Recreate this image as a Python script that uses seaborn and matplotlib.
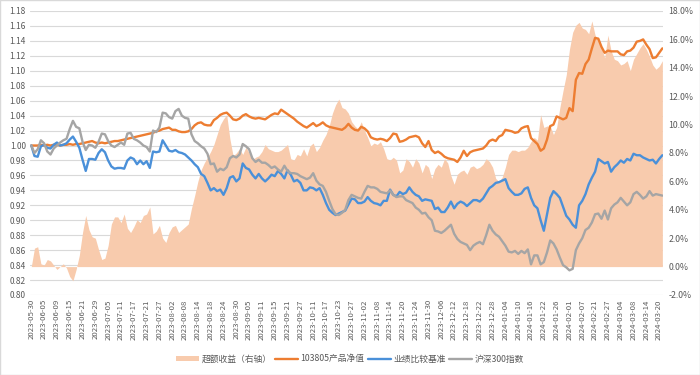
import numpy as np
import pandas as pd
import seaborn as sns
import matplotlib.pyplot as plt
from matplotlib.patches import Patch, Rectangle
from matplotlib.lines import Line2D

# x-axis labels (every 4th trading day)
tick_labels = ['2023-05-30', '2023-06-05', '2023-06-09', '2023-06-15', '2023-06-21',
               '2023-06-29', '2023-07-05', '2023-07-11', '2023-07-17', '2023-07-21',
               '2023-07-27', '2023-08-02', '2023-08-08', '2023-08-14', '2023-08-18',
               '2023-08-24', '2023-08-30', '2023-09-05', '2023-09-11', '2023-09-15',
               '2023-09-21', '2023-09-27', '2023-10-11', '2023-10-17', '2023-10-23',
               '2023-10-27', '2023-11-02', '2023-11-08', '2023-11-14', '2023-11-20',
               '2023-11-24', '2023-11-30', '2023-12-06', '2023-12-12', '2023-12-18',
               '2023-12-22', '2023-12-28', '2024-01-04', '2024-01-10', '2024-01-16',
               '2024-01-22', '2024-01-26', '2024-02-01', '2024-02-07', '2024-02-21',
               '2024-02-27', '2024-03-04', '2024-03-08', '2024-03-14', '2024-03-20']

# 103805产品净值
nav = [1.000, 1.000, 1.000, 1.001, 1.000, 1.001, 1.000, 1.001, 1.001, 1.000,
       1.001, 1.001, 1.002, 1.001, 1.002, 1.002, 1.003, 1.004, 1.005, 1.006,
       1.004, 1.003, 1.004, 1.003, 1.004, 1.005, 1.006, 1.006, 1.007, 1.008,
       1.009, 1.010, 1.011, 1.012, 1.013, 1.014, 1.015, 1.016, 1.017, 1.019,
       1.020, 1.022, 1.023, 1.024, 1.021, 1.021, 1.019, 1.018, 1.018, 1.019,
       1.022, 1.027, 1.030, 1.031, 1.028, 1.027, 1.027, 1.034, 1.037, 1.041,
       1.043, 1.044, 1.040, 1.035, 1.034, 1.036, 1.040, 1.042, 1.039, 1.037,
       1.036, 1.037, 1.036, 1.035, 1.038, 1.041, 1.043, 1.042, 1.048, 1.045,
       1.042, 1.039, 1.036, 1.032, 1.029, 1.026, 1.024, 1.027, 1.030, 1.026,
       1.028, 1.031, 1.027, 1.025, 1.024, 1.023, 1.022, 1.021, 1.024, 1.029,
       1.024, 1.021, 1.020, 1.025, 1.023, 1.019, 1.011, 1.009, 1.008, 1.009,
       1.008, 1.006, 1.010, 1.016, 1.015, 1.005, 1.006, 1.008, 1.011, 1.012,
       1.013, 1.011, 1.003, 0.998, 1.006, 0.994, 0.990, 0.992, 0.989, 0.985,
       0.983, 0.982, 0.981, 0.978, 0.984, 0.993, 0.986, 0.991, 0.993, 0.994,
       0.995, 0.996, 1.000, 1.006, 1.008, 1.006, 1.012, 1.014, 1.021, 1.020,
       1.019, 1.017, 1.018, 1.023, 1.025, 1.026, 1.010, 1.006, 1.002, 0.993,
       0.996, 1.008, 1.026, 1.028, 1.039, 1.037, 1.035, 1.037, 1.050, 1.046,
       1.088, 1.097, 1.096, 1.109, 1.115, 1.130, 1.144, 1.143, 1.132, 1.124,
       1.127, 1.126, 1.126, 1.126, 1.122, 1.121, 1.126, 1.127, 1.131, 1.139,
       1.140, 1.142, 1.135, 1.129, 1.117, 1.118, 1.124, 1.130]

# 业绩比较基准
bench = [1.000, 0.986, 0.985, 0.999, 1.001, 0.997, 0.996, 1.001, 1.004, 1.000,
         1.001, 1.003, 1.008, 1.012, 1.005, 0.997, 0.981, 0.966, 0.982, 0.982,
         0.981, 0.990, 0.995, 0.991, 0.980, 0.972, 0.969, 0.970, 0.970, 0.969,
         0.980, 0.984, 0.982, 0.975, 0.980, 0.975, 0.979, 0.970, 0.992, 0.991,
         0.992, 1.007, 1.000, 0.993, 0.992, 0.994, 0.991, 0.990, 0.988, 0.984,
         0.980, 0.975, 0.971, 0.962, 0.959, 0.950, 0.940, 0.943, 0.939, 0.941,
         0.934, 0.943, 0.957, 0.959, 0.952, 0.956, 0.976, 0.970, 0.968, 0.961,
         0.956, 0.962, 0.956, 0.952, 0.956, 0.961, 0.959, 0.966, 0.962, 0.956,
         0.967, 0.961, 0.952, 0.954, 0.950, 0.940, 0.940, 0.944, 0.943, 0.940,
         0.943, 0.934, 0.923, 0.914, 0.910, 0.907, 0.909, 0.911, 0.913, 0.921,
         0.929, 0.928, 0.923, 0.923, 0.925, 0.931, 0.926, 0.923, 0.922, 0.920,
         0.926, 0.926, 0.941, 0.934, 0.932, 0.938, 0.935, 0.937, 0.944, 0.938,
         0.934, 0.932, 0.926, 0.928, 0.927, 0.926, 0.915, 0.917, 0.911, 0.911,
         0.917, 0.925, 0.916, 0.922, 0.925, 0.923, 0.919, 0.923, 0.927, 0.927,
         0.925, 0.929, 0.936, 0.943, 0.946, 0.950, 0.951, 0.953, 0.955, 0.943,
         0.938, 0.934, 0.934, 0.936, 0.942, 0.944, 0.930, 0.920, 0.916, 0.900,
         0.886, 0.908, 0.930, 0.939, 0.935, 0.930, 0.918, 0.906, 0.901, 0.894,
         0.890, 0.920, 0.926, 0.935, 0.948, 0.957, 0.965, 0.982, 0.979, 0.976,
         0.978, 0.965, 0.971, 0.975, 0.980, 0.977, 0.982, 0.980, 0.989, 0.987,
         0.987, 0.984, 0.982, 0.980, 0.981, 0.976, 0.982, 0.987]

# 沪深300指数 (normalised)
csi300 = [1.000, 0.990, 0.995, 1.007, 1.003, 0.992, 0.988, 0.996, 1.000, 1.004,
          1.007, 1.009, 1.022, 1.033, 1.025, 1.023, 1.005, 0.994, 1.001, 1.000,
          0.997, 1.005, 1.016, 1.015, 1.006, 1.000, 0.998, 1.001, 1.004, 1.001,
          1.016, 1.017, 1.009, 1.007, 1.004, 1.000, 0.998, 0.992, 1.020, 1.018,
          1.024, 1.044, 1.043, 1.038, 1.036, 1.046, 1.049, 1.040, 1.037, 1.036,
          1.015, 1.006, 1.003, 0.999, 0.996, 0.989, 0.975, 0.976, 0.965, 0.969,
          0.967, 0.971, 0.983, 0.986, 0.984, 0.988, 1.002, 0.999, 0.995, 0.983,
          0.978, 0.981, 0.977, 0.977, 0.974, 0.970, 0.972, 0.968, 0.965, 0.973,
          0.966, 0.963, 0.963, 0.962, 0.959, 0.957, 0.955, 0.957, 0.963, 0.953,
          0.948, 0.946, 0.938, 0.926, 0.915, 0.908, 0.907, 0.910, 0.914, 0.927,
          0.934, 0.932, 0.930, 0.929, 0.938, 0.946, 0.944, 0.944, 0.942, 0.938,
          0.937, 0.936, 0.940, 0.934, 0.931, 0.932, 0.932, 0.927, 0.925, 0.923,
          0.917, 0.914, 0.909, 0.910, 0.904, 0.900, 0.886, 0.885, 0.883, 0.886,
          0.890, 0.894, 0.882, 0.875, 0.871, 0.869, 0.867, 0.860, 0.866, 0.869,
          0.871, 0.868, 0.880, 0.894, 0.886, 0.881, 0.878, 0.872, 0.866, 0.858,
          0.857, 0.859, 0.855, 0.859, 0.856, 0.861, 0.841, 0.853, 0.853, 0.841,
          0.844, 0.857, 0.873, 0.869, 0.861, 0.850, 0.840, 0.837, 0.833, 0.835,
          0.860, 0.869, 0.876, 0.887, 0.890, 0.897, 0.908, 0.909, 0.902, 0.913,
          0.901, 0.916, 0.921, 0.924, 0.930, 0.925, 0.920, 0.924, 0.935, 0.938,
          0.934, 0.929, 0.932, 0.939, 0.933, 0.935, 0.934, 0.933]

# 超额收益（右轴）, in %
excess = [0.0, 1.3, 1.4, 0.2, 0.1, 0.5, 0.4, 0.1, -0.2, 0.0,
          0.2, -0.1, -0.7, -1.0, -0.2, 0.8, 2.4, 3.6, 2.6, 2.1,
          2.0, 1.2, 0.5, 0.6, 1.5, 3.0, 3.5, 3.5, 3.1, 3.7,
          2.7, 2.4, 2.8, 3.3, 3.1, 3.6, 3.7, 4.2, 2.3, 2.5,
          2.9, 2.0, 1.7, 2.4, 2.8, 2.9, 2.4, 2.6, 2.8, 3.0,
          4.1, 5.0, 6.0, 6.8, 7.3, 7.7, 8.1, 8.6, 9.3, 10.0,
          10.4, 10.7, 9.0, 7.8, 8.0, 8.3, 7.9, 8.4, 8.0, 7.5,
          7.7, 7.8, 8.1, 8.6, 8.3, 8.2, 8.1, 8.1, 8.2, 8.4,
          8.6, 7.6, 7.5, 7.9, 7.8, 8.3, 7.8, 8.5, 8.7, 8.1,
          8.4, 8.9, 9.3, 9.9, 10.8, 11.4, 11.8, 11.2, 11.1, 10.8,
          10.2, 9.9, 9.7, 10.2, 9.6, 9.1, 8.5, 8.7, 8.6, 8.8,
          8.3, 7.6, 7.5, 7.7, 7.5, 6.6, 6.8, 7.6, 7.4, 7.0,
          7.6, 7.3, 6.6, 7.2, 7.0, 6.2, 6.9, 7.2, 7.0, 7.6,
          7.3, 6.4, 5.8, 6.5, 6.7, 6.8, 6.5, 7.0, 7.1, 6.9,
          7.0, 7.2, 7.6, 7.4, 7.0, 6.2, 6.0, 6.3, 7.0, 7.9,
          8.2, 8.2, 8.1, 8.2, 8.2, 8.4, 8.8, 9.1, 8.9, 10.7,
          9.8, 9.9, 9.9, 9.3, 9.8, 11.2, 12.4, 13.5, 15.3, 16.5,
          17.0, 17.2, 16.8, 16.7, 16.4, 17.3, 16.3, 15.9, 15.4, 14.7,
          16.3, 15.2, 14.6, 14.5, 14.2, 14.3, 14.5, 13.8, 14.6, 15.0,
          15.4, 15.7, 15.3, 14.8, 14.2, 13.9, 14.1, 14.5]

series_names = ['103805产品净值', '业绩比较基准', '沪深300指数']
line_colors = ['#ED7D31', '#4A90D9', '#A5A5A5']
area_color = '#F8CBAD'
text_color = '#595959'

sns.set_theme(style="white")
plt.rcParams['font.family'] = ['Noto Sans CJK SC', 'DejaVu Sans']

x = np.arange(len(nav))
df = pd.DataFrame({'x': x, series_names[0]: nav, series_names[1]: bench, series_names[2]: csi300})
long_df = df.melt(id_vars='x', var_name='series', value_name='value')

fig = plt.figure(figsize=(7, 3.75), dpi=100)
ax = fig.add_axes([30 / 700, 1 - 295 / 375, 633 / 700, 284 / 375])
ax_r = ax.twinx()      # excess return area, right axis
ax_l = ax.twinx()      # lines, drawn on top, left scale

# area
ax_r.fill_between(x, 0, excess, color=area_color, lw=0)

# lines
sns.lineplot(data=long_df, x='x', y='value', hue='series', hue_order=series_names,
             palette=line_colors, linewidth=1.7, ax=ax_l, legend=False)

ax.set_xlim(-0.4, len(nav) - 0.8)
for a in (ax, ax_l):
    a.set_ylim(0.80, 1.18)
ax_r.set_ylim(-2, 18)

# left axis ticks + grid
yt = np.round(np.arange(0.80, 1.181, 0.02), 2)
ax.set_yticks(yt)
ax.set_yticklabels([f"{v:.2f}" for v in yt], fontsize=6, color=text_color)
ax.yaxis.grid(True, color='#D9D9D9', linewidth=0.8)
ax.xaxis.grid(False)
ax.set_xticks(x[::4])
ax.set_xticklabels(tick_labels, rotation=90, fontsize=5.6, color=text_color)
ax.tick_params(length=0, pad=3)

# right axis ticks
rt = np.arange(-2, 19, 2)
ax_r.set_yticks(rt)
ax_r.set_yticklabels([f"{v:.1f}%" for v in rt], fontsize=6.3, color=text_color)
ax_r.tick_params(length=0, pad=4)

ax_l.set_yticks([])
ax_l.set_ylabel('')
ax_l.set_xlabel('')
for a in (ax, ax_r, ax_l):
    for s in a.spines.values():
        s.set_visible(False)

handles = [Patch(facecolor=area_color, edgecolor='none')] + \
          [Line2D([0], [0], color=c, lw=1.7) for c in line_colors]
labels = ['超额收益（右轴）'] + series_names
fig.legend(handles, labels, loc='center', bbox_to_anchor=(0.5, 1 - 359 / 375),
           ncol=4, frameon=False, fontsize=6.3, handlelength=2.6, handleheight=0.6,
           handletextpad=0.3, columnspacing=0.4, labelcolor=text_color)

fig.patches.append(Rectangle((0, 0), 1, 1, transform=fig.transFigure, fill=False,
                             edgecolor='#D9D9D9', linewidth=1))

fig.savefig('out.png', dpi=100)
